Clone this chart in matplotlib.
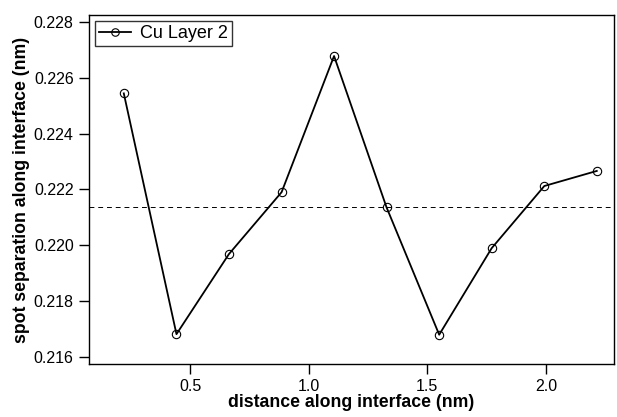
import matplotlib
matplotlib.use("Agg")
import matplotlib.pyplot as plt
import numpy as np

plt.rcParams['font.family'] = ['Liberation Sans', 'DejaVu Sans']

distance = [0.221, 0.443, 0.664, 0.886, 1.107, 1.328, 1.550, 1.771, 1.993, 2.214]
separation = [0.22544, 0.21681, 0.21968, 0.22190, 0.22678, 0.22136, 0.21679, 0.21989, 0.22212, 0.22266]
mean_sep = 0.22135
yticks = [0.216, 0.218, 0.220, 0.222, 0.224, 0.226, 0.228]
xticks = [0.5, 1.0, 1.5, 2.0]

fig = plt.figure(figsize=(6.17, 4.17), dpi=100)
ax = fig.add_axes([89/617, 1 - 364/417, (614-89)/617, (364-15)/417])

ax.plot(distance, separation, '-', color='black', lw=1.3, marker='o', ms=6,
        mfc='none', mec='black', mew=0.8, label='Cu Layer 2')
ax.axhline(mean_sep, color='black', lw=0.7, ls=(0, (5, 4)))

ax.set_xlim(0.0744, 2.2866)
ax.set_ylim(0.21574, 0.22825)
ax.set_xticks(xticks)
ax.set_yticks(yticks)
ax.set_xticklabels(['%.1f' % v for v in xticks])
ax.set_yticklabels(['%.3f' % v for v in yticks])
ax.tick_params(direction='out', length=7, width=1, labelsize=11.5, pad=4)
for s in ax.spines.values():
    s.set_linewidth(1.0)

ax.set_xlabel('distance along interface (nm)', fontsize=12.7, fontweight='bold', labelpad=0)
ax.set_ylabel('spot separation along interface (nm)', fontsize=12.7, fontweight='bold', labelpad=3)

leg = ax.legend(loc='upper left', fontsize=13, frameon=True, fancybox=False,
                edgecolor='black', handlelength=1.8, handletextpad=0.5,
                borderpad=0.2, borderaxespad=0.35, markerscale=0.9)
leg.get_frame().set_linewidth(1.0)

fig.savefig('out.png', dpi=100)
